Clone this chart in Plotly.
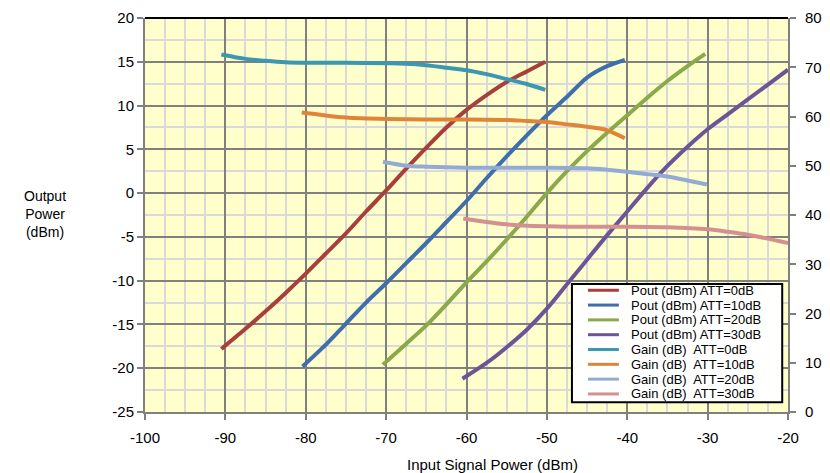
import plotly.graph_objects as go

# ---- data ----
pout0_x = [-90.5, -87.5, -85, -82.5, -80, -77.5, -75, -72.5, -70, -67.5, -65, -62.5, -60, -57.5, -55, -52.5, -50.2]
pout0_y = [-17.8, -15.5, -13.5, -11.4, -9.2, -6.9, -4.6, -2.1, 0.3, 2.8, 5.2, 7.5, 9.5, 11.2, 12.7, 13.9, 15.0]

pout10_x = [-80.4, -77.5, -75, -72.5, -70, -67.5, -65, -62.5, -60, -57.5, -55, -52.5, -50, -47.5, -45, -42.5, -40.3]
pout10_y = [-19.8, -17.3, -14.9, -12.5, -10.3, -8.0, -5.7, -3.3, -0.9, 1.7, 4.2, 6.6, 8.9, 11.0, 13.2, 14.5, 15.2]

pout20_x = [-70.4, -67.5, -65, -62.5, -60, -57.5, -55, -52.5, -50, -47.5, -45, -42.5, -40, -37.5, -35, -32.5, -30.3]
pout20_y = [-19.6, -17.2, -15.1, -12.7, -10.2, -7.8, -5.3, -2.7, 0.0, 2.5, 4.8, 6.9, 8.9, 10.9, 12.8, 14.5, 15.9]

pout30_x = [-60.5, -57.5, -55, -52.5, -50, -47.5, -45, -42.5, -40, -37.5, -35, -32.5, -30, -27.5, -25, -22.5, -20]
pout30_y = [-21.2, -19.4, -17.6, -15.6, -13.2, -10.4, -7.6, -4.8, -2.1, 0.6, 3.1, 5.3, 7.3, 9.0, 10.7, 12.4, 14.1]

gain0_x = [-90.5, -87.5, -85, -82.5, -80, -75, -70, -67.5, -65, -62.5, -60, -57.5, -55, -52.5, -50.2]
gain0_y = [72.6, 71.7, 71.3, 71.0, 70.9, 70.9, 70.8, 70.7, 70.4, 69.9, 69.4, 68.6, 67.6, 66.6, 65.4]

gain10_x = [-80.5, -77.5, -75, -70, -65, -60, -55, -52.5, -50, -47.5, -45, -42.5, -40.3]
gain10_y = [60.8, 60.2, 59.8, 59.5, 59.4, 59.4, 59.3, 59.1, 58.9, 58.4, 57.9, 57.2, 55.6]

gain20_x = [-70.4, -67.5, -65, -60, -55, -50, -45, -42.5, -40, -37.5, -35, -32.5, -30.1]
gain20_y = [50.8, 50.0, 49.8, 49.6, 49.6, 49.6, 49.5, 49.2, 48.8, 48.3, 47.8, 47.0, 46.2]

gain30_x = [-60.4, -57.5, -55, -52.5, -50, -45, -40, -35, -30, -27.5, -25, -22.5, -20]
gain30_y = [39.3, 38.6, 38.1, 37.8, 37.7, 37.6, 37.6, 37.5, 37.1, 36.6, 36.0, 35.2, 34.3]

x_ticks = [-100, -90, -80, -70, -60, -50, -40, -30, -20]
y_ticks = [20, 15, 10, 5, 0, -5, -10, -15, -20, -25]
y2_ticks = [80, 70, 60, 50, 40, 30, 20, 10, 0]

series = [
    ("Pout (dBm) ATT=0dB", pout0_x, pout0_y, "#A83F3B", "y"),
    ("Pout (dBm) ATT=10dB", pout10_x, pout10_y, "#3F6EAC", "y"),
    ("Pout (dBm) ATT=20dB", pout20_x, pout20_y, "#89A94A", "y"),
    ("Pout (dBm) ATT=30dB", pout30_x, pout30_y, "#6C5597", "y"),
    ("Gain (dB)  ATT=0dB", gain0_x, gain0_y, "#3C97B1", "y2"),
    ("Gain (dB)  ATT=10dB", gain10_x, gain10_y, "#E0843A", "y2"),
    ("Gain (dB)  ATT=20dB", gain20_x, gain20_y, "#93AAD4", "y2"),
    ("Gain (dB)  ATT=30dB", gain30_x, gain30_y, "#D49090", "y2"),
]

fig = go.Figure()
for name, xs, ys, col, ax in series:
    fig.add_trace(go.Scatter(x=xs, y=ys, name=name, mode="lines", yaxis=ax,
                             line=dict(color=col, width=4, shape="spline", smoothing=0.8)))

# ---- legend box (drawn in paper space, compact like the reference) ----
L_X0, L_X1, L_Y0, L_Y1 = 0.664, 0.991, 0.025, 0.325
shapes = [
    dict(type="line", xref="paper", yref="paper", x0=0, x1=1, y0=1, y1=1,
         line=dict(color="black", width=2)),
    dict(type="rect", xref="paper", yref="paper", x0=L_X0, x1=L_X1, y0=L_Y0, y1=L_Y1,
         fillcolor="white", line=dict(color="black", width=2), layer="above"),
]
annotations = [
    dict(text="Output<br>Power<br>(dBm)", xref="paper", yref="paper",
         x=-0.155, y=0.502, xanchor="center", yanchor="middle",
         showarrow=False, font=dict(size=14), align="center"),
    dict(text="Input Signal Power (dBm)", xref="paper", yref="paper",
         x=0.54, y=-0.132, xanchor="center", yanchor="middle",
         showarrow=False, font=dict(size=15)),
]
item_top = 0.309
item_step = 0.0376
for i, (name, xs, ys, col, ax) in enumerate(series):
    yy = item_top - i * item_step
    shapes.append(dict(type="line", xref="paper", yref="paper",
                       x0=0.689, x1=0.737, y0=yy, y1=yy, layer="above",
                       line=dict(color=col, width=3)))
    annotations.append(dict(text=name, xref="paper", yref="paper", x=0.753, y=yy,
                            xanchor="left", yanchor="middle", showarrow=False,
                            font=dict(size=13)))

font_family = "Liberation Sans, Arial, sans-serif"
axis_common = dict(showline=True, linecolor="#808080", linewidth=2,
                   ticks="outside", ticklen=6, tickcolor="#808080", tickwidth=2,
                   zeroline=False, fixedrange=True, automargin=False)
# page body has an 8px margin, so the figure is 8px smaller and the margins adjusted
fig.update_layout(
    width=822, height=465,
    margin=dict(l=137, r=42, t=10, b=61, autoexpand=False),
    paper_bgcolor="white",
    plot_bgcolor="#FFFFCC",
    font=dict(family=font_family, size=15, color="black"),
    showlegend=False,
    xaxis=dict(range=[-100, -20], tickvals=x_ticks, ticktext=[str(v) for v in x_ticks],
               showgrid=True, gridcolor="#808080", gridwidth=1.5,
               minor=dict(dtick=2.5, showgrid=True, gridcolor="#D9D9D9", gridwidth=2),
               ticklabelstandoff=5, **axis_common),
    yaxis=dict(range=[-25, 20], tickvals=y_ticks, ticktext=[str(v) for v in y_ticks],
               showgrid=True, gridcolor="#808080", gridwidth=1.5,
               minor=dict(dtick=2.5, showgrid=True, gridcolor="#D9D9D9", gridwidth=2),
               **axis_common),
    yaxis2=dict(range=[0, 80], tickvals=y2_ticks, ticktext=[str(v) for v in y2_ticks],
                overlaying="y", side="right", showgrid=False,
                ticklabelstandoff=6, **axis_common),
    shapes=shapes,
    annotations=annotations,
)

fig.write_html("out.html")
